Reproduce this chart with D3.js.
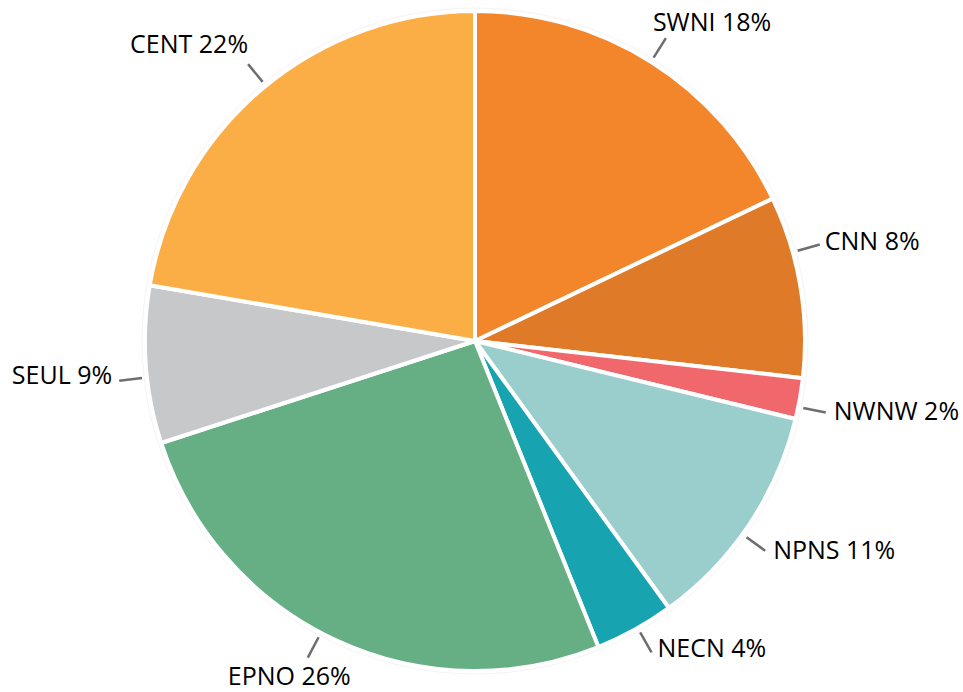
<!DOCTYPE html>
<html>
<head>
<meta charset="utf-8">
<script src="https://cdn.jsdelivr.net/npm/d3@7"></script>
<style>
  body { margin: 0; background: #fff; }
</style>
</head>
<body>
<div id="chart"></div>
<script>
const width = 963;
const height = 692;
const cx = 475;
const cy = 341;
const radius = 330;

// regions, clockwise from 12 o'clock
const regions = ['SWNI', 'CNN', 'NWNW', 'NPNS', 'NECN', 'EPNO', 'SEUL', 'CENT'];
// printed percentages
const labelPct = [18, 8, 2, 11, 4, 26, 9, 22];
// slice shares as drawn
const shares = [17.9, 8.9, 2.0, 11.2, 3.9, 26.1, 7.7, 22.3];
const colours = ['#f3852a', '#de7a28', '#f0686b', '#9acecd', '#17a3b0', '#66af84', '#c7c8ca', '#fbae45'];

// where each leader line sits inside its slice (0..1) and how the text hangs off its end
const labelLayout = [
  {at: 0.50, dx: -13, dy: -7, anchor: 'start'},
  {at: 0.31, dx: 5, dy: 5, anchor: 'start'},
  {at: 0.70, dx: 8, dy: 8, anchor: 'start'},
  {at: 0.55, dx: 8, dy: 8, anchor: 'start'},
  {at: 0.46, dx: 6, dy: 5, anchor: 'start'},
  {at: 0.53, dx: -80, dy: 27, anchor: 'start'},
  {at: 0.42, dx: -7, dy: 3, anchor: 'end'},
  {at: 0.51, dx: 0, dy: -11, anchor: 'end'}
];

const data = regions.map((r, i) => ({name: r, pct: labelPct[i], value: shares[i], colour: colours[i], layout: labelLayout[i]}));

const svg = d3.select('#chart').append('svg')
  .attr('width', width)
  .attr('height', height)
  .style('background-color', '#fff');

const pie = d3.pie()
  .sort(null)
  .value(d => d.value);

const arcs = pie(data);

const arc = d3.arc()
  .innerRadius(0)
  .outerRadius(radius);

const g = svg.append('g')
  .attr('transform', `translate(${cx}, ${cy})`);

// faint rim just outside the pie
g.append('circle')
  .attr('r', radius + 3)
  .attr('fill', 'none')
  .attr('stroke', '#f0f0f0')
  .attr('stroke-width', 0.8);

g.selectAll('.slice')
  .data(arcs)
  .join('path')
  .classed('slice', true)
  .attr('d', arc)
  .attr('fill', d => d.data.colour)
  .attr('stroke', '#fff')
  .attr('stroke-width', 4)
  .attr('stroke-linejoin', 'round');

// leader lines
const lineAngle = d => d.startAngle + (d.endAngle - d.startAngle) * d.data.layout.at;
const polar = (a, r) => [Math.sin(a) * r, -Math.cos(a) * r];

g.selectAll('.leader')
  .data(arcs)
  .join('line')
  .classed('leader', true)
  .attr('x1', d => polar(lineAngle(d), radius + 5)[0])
  .attr('y1', d => polar(lineAngle(d), radius + 5)[1])
  .attr('x2', d => polar(lineAngle(d), radius + 28)[0])
  .attr('y2', d => polar(lineAngle(d), radius + 28)[1])
  .attr('stroke', '#6d6e71')
  .attr('stroke-width', 2.5);

g.selectAll('.label')
  .data(arcs)
  .join('text')
  .classed('label', true)
  .attr('x', d => polar(lineAngle(d), radius + 28)[0] + d.data.layout.dx)
  .attr('y', d => polar(lineAngle(d), radius + 28)[1] + d.data.layout.dy)
  .attr('text-anchor', d => d.data.layout.anchor)
  .style('font-family', "'Open Sans', sans-serif")
  .style('font-size', '25px')
  .style('fill', '#000')
  .text(d => `${d.data.name} ${d.data.pct}%`);
</script>
</body>
</html>
